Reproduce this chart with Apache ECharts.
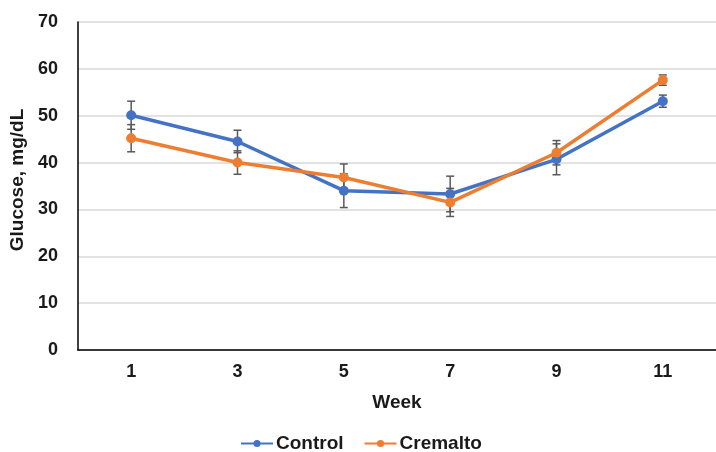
<!DOCTYPE html>
<html>
<head>
<meta charset="utf-8">
<script src="https://cdn.jsdelivr.net/npm/echarts@6/dist/echarts.min.js"></script>
<style>
  html, body { margin: 0; padding: 0; background: #fff; }
  #chart { width: 716px; height: 452px; }
</style>
</head>
<body>
<div id="chart"></div>
<script>
// Weekly glucose readings (mean ± error) for both groups
const weeks = ['1', '3', '5', '7', '9', '11'];
const controlMean = [50.1, 44.5, 34.0, 33.3, 40.7, 53.1];
const controlErr = [3.0, 2.4, 3.6, 3.8, 3.3, 1.3];
const cremaltoMean = [45.2, 40.0, 36.8, 31.5, 42.1, 57.6];
const cremaltoErr = [2.9, 2.5, 2.9, 3.0, 2.6, 1.1];
const yTicks = [0, 10, 20, 30, 40, 50, 60, 70];

const BLUE = '#4472C4';
const ORANGE = '#ED7D31';
const ERR_COLOR = '#595959';
const TEXT = '#1a1a1a';
const FONT = 'Liberation Sans, Arial, sans-serif';

function errorData(mean, err) {
  return mean.map((m, i) => [i, m - err[i], m + err[i]]);
}

// Vertical whisker with short caps at both ends
function renderErrorBar(params, api) {
  const x = api.value(0);
  const lo = api.coord([x, api.value(1)]);
  const hi = api.coord([x, api.value(2)]);
  const half = 4;
  const style = { stroke: ERR_COLOR, lineWidth: 1.5 };
  return {
    type: 'group',
    children: [
      { type: 'line', shape: { x1: hi[0], y1: hi[1], x2: lo[0], y2: lo[1] }, style },
      { type: 'line', shape: { x1: hi[0] - half, y1: hi[1], x2: hi[0] + half, y2: hi[1] }, style },
      { type: 'line', shape: { x1: lo[0] - half, y1: lo[1], x2: lo[0] + half, y2: lo[1] }, style }
    ]
  };
}

const chart = echarts.init(document.getElementById('chart'));
chart.setOption({
  animation: false,
  backgroundColor: '#fff',
  grid: { left: 78, right: 0, top: 22, bottom: 102, containLabel: false, outerBoundsMode: 'none' },
  legend: {
    left: 235,
    top: 429,
    itemWidth: 32,
    itemHeight: 9,
    itemGap: 20,
    textStyle: { fontFamily: FONT, fontWeight: 'bold', fontSize: 19, color: TEXT, padding: [0, 0, 0, -2] },
    data: ['Control', 'Cremalto']
  },
  xAxis: {
    type: 'category',
    data: weeks,
    boundaryGap: true,
    name: 'Week',
    nameLocation: 'middle',
    nameGap: 43,
    nameTextStyle: { fontFamily: FONT, fontWeight: 'bold', fontSize: 19, color: TEXT },
    axisLine: { show: true, lineStyle: { color: '#000', width: 1.5 } },
    axisTick: { show: false },
    axisLabel: { margin: 13, fontFamily: FONT, fontWeight: 'bold', fontSize: 18, color: TEXT },
    splitLine: { show: false }
  },
  yAxis: {
    type: 'value',
    min: yTicks[0],
    max: yTicks[yTicks.length - 1],
    interval: 10,
    name: 'Glucose, mg/dL',
    nameLocation: 'middle',
    nameGap: 44,
    nameRotate: 90,
    nameTextStyle: { fontFamily: FONT, fontWeight: 'bold', fontSize: 19, color: TEXT, padding: [0, 0, 0, 12] },
    axisLine: { show: true, lineStyle: { color: '#000', width: 1.5 } },
    axisTick: { show: false },
    axisLabel: { margin: 20, fontFamily: FONT, fontWeight: 'bold', fontSize: 18, color: TEXT },
    splitLine: { show: true, lineStyle: { color: '#d9d9d9', width: 1.5 } }
  },
  series: [
    {
      name: 'Control err',
      type: 'custom',
      renderItem: renderErrorBar,
      data: errorData(controlMean, controlErr),
      z: 1,
      silent: true
    },
    {
      name: 'Cremalto err',
      type: 'custom',
      renderItem: renderErrorBar,
      data: errorData(cremaltoMean, cremaltoErr),
      z: 1,
      silent: true
    },
    {
      name: 'Control',
      type: 'line',
      data: controlMean,
      color: BLUE,
      symbol: 'circle',
      symbolSize: 10,
      lineStyle: { width: 3.5, color: BLUE },
      itemStyle: { color: BLUE },
      z: 3
    },
    {
      name: 'Cremalto',
      type: 'line',
      data: cremaltoMean,
      color: ORANGE,
      symbol: 'circle',
      symbolSize: 10,
      lineStyle: { width: 3.5, color: ORANGE },
      itemStyle: { color: ORANGE },
      z: 4
    }
  ]
});
</script>
</body>
</html>
